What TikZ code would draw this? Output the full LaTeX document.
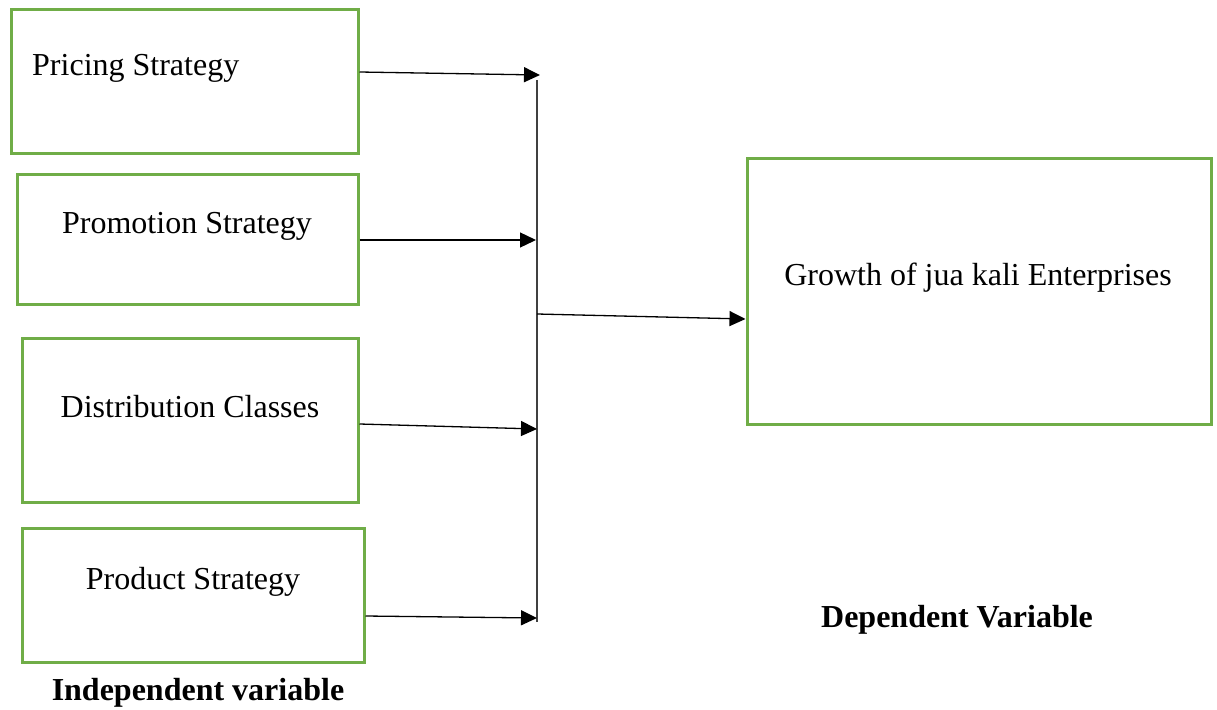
\documentclass[tikz,border=0pt]{standalone}
\usepackage{fontspec}
\setmainfont{Liberation Serif}
\usetikzlibrary{arrows.meta}
\definecolor{boxgreen}{RGB}{112,173,71}
\definecolor{busgray}{RGB}{64,64,64}
\begin{document}
\begin{tikzpicture}[x=1pt,y=-1pt,
  box/.style={draw=boxgreen, line width=3pt, inner sep=0pt},
  lbl/.style={font=\fontsize{32}{36}\selectfont, inner sep=0pt},
  head/.style={font=\fontsize{32}{36}\selectfont\bfseries, inner sep=0pt},
  arr/.style={line width=1.3pt, -{Triangle[length=16pt,width=15pt]}},
  bus/.style={draw=busgray, line width=2pt}]
\useasboundingbox (0,0) rectangle (1217,709);
% boxes
\node[box, minimum width=347pt, minimum height=143pt] (b1) at (184.5,81.5) {};
\node[box, minimum width=341pt, minimum height=130pt] (b2) at (187.5,239) {};
\node[box, minimum width=336pt, minimum height=164pt] (b3) at (190,420) {};
\node[box, minimum width=342pt, minimum height=134pt] (b4) at (193,595) {};
\node[box, minimum width=464pt, minimum height=266pt] (g) at (979,291) {};
% texts
\node[lbl, anchor=west] (t1) at (32,68) {Pricing Strategy};
\node[lbl] (t2) at (187,226) {Promotion Strategy};
\node[lbl] (t3) at (190,407) {Distribution Classes};
\node[lbl] (t4) at (193,582) {Product Strategy};
\node[lbl] (t5) at (978,278) {Growth of jua kali Enterprises};
\node[head] (dep) at (957,620) {Dependent Variable};
\node[head] (ind) at (198,693) {Independent variable};
% bus
\coordinate (bustop) at (537,80);
\coordinate (busbot) at (537,622);
\coordinate (busmid) at (537,314);
\draw[bus] (bustop) -- (busbot);
\coordinate (tip1) at (540,75);
\coordinate (tip2) at (536,240);
\coordinate (tip3) at (537,429);
\coordinate (tip4) at (537,618);
\draw[arr] ([yshift=9.5pt]b1.east) -- (tip1);
\draw[arr] ([yshift=-1pt]b2.east) -- (tip2);
\draw[arr] ([yshift=-4pt]b3.east) -- (tip3);
\draw[arr] ([yshift=-21pt]b4.east) -- (tip4);
\draw[arr] (busmid) -- ([yshift=-28pt]g.west);
\end{tikzpicture}
\end{document}
